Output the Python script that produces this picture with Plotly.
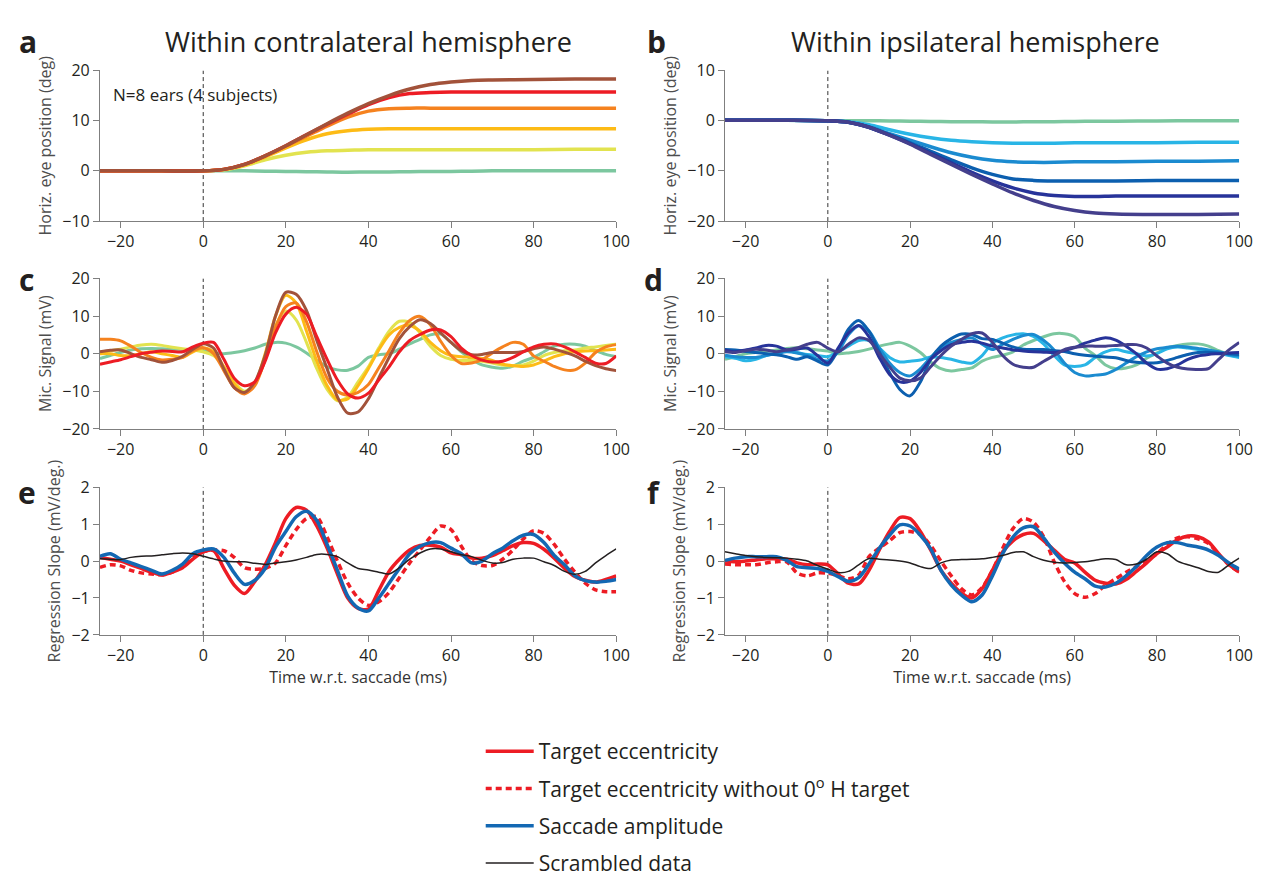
import plotly.graph_objects as go

# ---------------- data ----------------
T_EYE = [-25, -20, -10, 0, 5, 10, 15, 20, 25, 30, 35, 40, 45, 50, 55, 60, 65, 70, 80, 90, 100]

# panel a: contralateral eye position (deg)
a_green  = [0, 0, 0, 0, 0.0, 0, -0.05, -0.1, -0.15, -0.2, -0.25, -0.2, -0.2, -0.15, -0.1, -0.1, -0.05, 0, 0, 0, 0]
a_yellow = [0, 0, 0, 0, 0.2, 1.0, 2.2, 3.1, 3.7, 4.0, 4.1, 4.2, 4.2, 4.2, 4.2, 4.2, 4.2, 4.2, 4.2, 4.3, 4.3]
a_gold   = [0, 0, 0, 0, 0.3, 1.2, 2.8, 4.6, 6.2, 7.4, 8.0, 8.3, 8.4, 8.4, 8.4, 8.4, 8.4, 8.4, 8.4, 8.4, 8.4]
a_orange = [0, 0, 0, 0, 0.3, 1.3, 3.0, 4.9, 6.9, 8.9, 10.7, 11.9, 12.4, 12.5, 12.5, 12.5, 12.5, 12.5, 12.5, 12.5, 12.5]
a_red    = [0, 0, 0, 0, 0.3, 1.3, 3.0, 5.0, 7.2, 9.3, 11.3, 13.2, 14.6, 15.4, 15.6, 15.7, 15.7, 15.7, 15.7, 15.7, 15.7]
a_brown  = [0, 0, 0, 0, 0.3, 1.3, 3.0, 5.0, 7.2, 9.4, 11.5, 13.4, 15.0, 16.3, 17.2, 17.7, 18.0, 18.1, 18.2, 18.3, 18.3]

# panel b: ipsilateral eye position (deg)
b_green  = [0.1, 0.1, 0.1, 0, 0, 0, -0.05, -0.1, -0.15, -0.2, -0.2, -0.25, -0.25, -0.2, -0.2, -0.15, -0.1, -0.1, -0.05, 0, 0]
b_cyan   = [0.1, 0.1, 0.1, 0, -0.2, -0.8, -1.8, -2.7, -3.4, -3.9, -4.2, -4.4, -4.5, -4.5, -4.5, -4.4, -4.4, -4.4, -4.4, -4.3, -4.3]
b_lblue  = [0.1, 0.1, 0.1, 0, -0.3, -1.2, -2.6, -3.9, -5.2, -6.4, -7.3, -7.9, -8.2, -8.3, -8.3, -8.2, -8.2, -8.2, -8.1, -8.1, -8.0]
b_blue   = [0.1, 0.1, 0.1, 0, -0.3, -1.3, -2.8, -4.4, -6.1, -7.8, -9.4, -10.7, -11.6, -11.9, -12.0, -12.0, -12.0, -12.0, -11.9, -11.9, -11.9]
b_dblue  = [0.1, 0.1, 0.1, 0, -0.3, -1.3, -2.9, -4.6, -6.5, -8.4, -10.3, -12.0, -13.4, -14.4, -14.9, -15.1, -15.1, -15.0, -15.0, -15.0, -15.0]
b_navy   = [0.1, 0.1, 0.1, 0, -0.3, -1.3, -2.9, -4.7, -6.7, -8.7, -10.7, -12.6, -14.4, -15.9, -17.1, -17.9, -18.4, -18.6, -18.7, -18.7, -18.6]

T_MS = [-25.0, -22.5, -20.0, -17.5, -15.0, -12.5, -10.0, -7.5, -5.0, -2.5,
        0.0, 2.5, 5.0, 7.5, 10.0, 12.5, 15.0, 17.5, 20.0, 22.5,
        25.0, 27.5, 30.0, 32.5, 35.0, 37.5, 40.0, 42.5, 45.0, 47.5,
        50.0, 52.5, 55.0, 57.5, 60.0, 62.5, 65.0, 67.5, 70.0, 72.5,
        75.0, 77.5, 80.0, 82.5, 85.0, 87.5, 90.0, 92.5, 95.0, 97.5, 100.0]

# panel c: contralateral mic signal (mV)
c_green  = [-1.3, -0.5, 0.3, 1.0, 1.3, 1.4, 1.3, 1.2, 1.1, 1.0,
            0.8, 0.1, 0.0, 0.3, 0.8, 1.5, 2.5, 3.0, 2.8, 1.8,
            0.2, -1.8, -3.5, -4.3, -4.4, -3.3, -1.0, -0.3, 0.0, 1.2,
            2.6, 3.8, 5.0, 5.2, 3.0, 0.5, -1.5, -3.0, -3.6, -3.9,
            -3.3, -2.0, -1.0, 0.5, 2.0, 2.5, 2.5, 2.0, 0.8, -0.2, -0.8]
c_yellow = [0.3, 0.8, 1.2, 1.8, 2.3, 2.5, 2.2, 1.7, 1.3, 1.0,
            0.5, -0.5, -3.5, -7.5, -10.0, -8.0, -1.5, 7.5, 11.3, 9.0,
            3.0, -4.0, -9.5, -12.5, -11.5, -7.5, -3.5, 1.5, 6.0, 8.6,
            8.3, 5.5, 2.0, -0.5, -1.5, -1.8, -1.8, -2.0, -2.5, -3.0,
            -3.2, -3.0, -2.0, -0.5, 0.3, 0.8, 1.0, 1.5, 1.8, 2.2, 2.5]
c_gold   = [0.0, 0.0, -0.5, -0.5, 0.0, 0.5, 0.0, -0.5, -1.0, 0.5,
            1.5, 0.5, -3.5, -8.0, -10.5, -8.0, 0.0, 10.0, 15.5, 13.5,
            6.0, -2.0, -8.5, -12.3, -12.0, -8.5, -4.0, 1.0, 5.0, 7.0,
            7.5, 6.0, 3.0, 0.8, -0.5, -0.8, -1.0, -1.3, -1.8, -2.8,
            -3.2, -3.4, -3.0, -2.0, -0.8, 0.0, 0.5, 0.7, 0.8, 1.0, 1.2]
c_orange = [3.8, 3.8, 3.4, 2.0, 0.3, -1.0, -1.7, -1.5, -1.0, 0.8,
            1.6, 0.0, -4.5, -9.0, -10.7, -8.5, -1.5, 7.0, 12.5, 13.5,
            8.5, 0.5, -6.5, -10.0, -11.0, -10.3, -8.2, -3.8, 0.8, 5.5,
            8.8, 9.9, 7.7, 3.3, -0.5, -2.6, -2.5, -1.6, 0.2, 1.8,
            3.0, 2.5, -0.6, -2.0, -3.4, -4.3, -4.3, -2.5, 0.3, 1.8, 2.4]
c_red    = [-2.8, -2.2, -1.6, -0.8, 0.0, 0.4, 0.7, 0.6, 0.5, 1.8,
            2.8, 3.0, -1.5, -6.5, -8.5, -7.5, -2.0, 5.5, 10.5, 12.3,
            10.5, 4.5, -1.5, -7.0, -10.7, -11.8, -10.5, -7.0, -3.5, 0.5,
            3.5, 5.1, 6.3, 6.3, 4.5, 1.5, -0.5, -1.7, -2.2, -2.0,
            -1.0, 0.5, 1.8, 2.5, 2.6, 1.8, 0.5, -1.0, -2.5, -2.6, -0.6]
c_brown  = [0.5, 0.9, 1.0, 0.0, -1.0, -1.6, -2.3, -1.8, -0.7, 1.2,
            2.6, 1.5, -4.0, -9.0, -10.3, -7.5, -0.5, 10.0, 16.3, 15.8,
            11.5, 3.5, -4.0, -11.5, -15.8, -15.5, -12.0, -6.5, -1.0, 4.0,
            7.2, 9.0, 8.0, 5.5, 3.0, 0.8, -0.3, -0.2, 0.3, 0.3,
            0.3, 0.6, 1.3, 1.8, 1.2, 0.4, -0.6, -2.0, -3.2, -4.0, -4.5]

# panel d: ipsilateral mic signal (mV)
d_green  = [-1.5, -0.8, 0.0, 0.3, 0.6, 1.0, 1.4, 1.6, 1.3, 1.0,
            0.7, 0.0, 0.2, 0.6, 1.2, 2.0, 2.6, 3.0, 2.0, 0.3,
            -2.2, -4.0, -4.6, -4.2, -3.8, -2.0, -1.0, -0.4, 0.5, 2.3,
            3.5, 4.5, 5.3, 5.3, 4.5, 1.5, -0.5, -3.0, -4.0, -3.8,
            -3.0, -1.2, 0.2, 1.5, 2.2, 2.6, 2.6, 2.0, 0.8, -0.2, -0.8]
d_cyan   = [-0.8, -1.2, -1.9, -1.5, -0.5, 0.2, 0.7, 0.3, -0.2, -0.5,
            -0.8, 0.5, 2.0, 3.5, 3.5, 1.5, -1.0, -2.2, -2.0, -1.7,
            -0.9, -1.0, -1.5, -2.2, -2.5, -0.5, 2.8, 4.2, 5.0, 5.3,
            4.6, 2.5, -0.5, -3.0, -3.4, -3.0, -1.0, 0.5, 1.1, 0.5,
            0.0, -0.6, 0.0, 1.3, 1.8, 1.5, 1.1, 0.8, 0.2, -0.5, -1.0]
d_lblue  = [-0.4, -0.8, -1.0, -1.0, -0.5, 0.0, 0.5, 0.2, -0.5, -1.5,
            -1.9, 0.5, 5.0, 7.4, 6.0, 1.5, -2.5, -5.0, -5.9, -4.0,
            -1.0, 1.5, 3.0, 3.8, 4.2, 2.5, 1.1, 2.5, 3.8, 4.8,
            5.1, 3.5, 1.0, -2.5, -5.0, -5.9, -5.7, -5.4, -4.2, -2.5,
            -0.8, 0.5, 1.3, 1.7, 2.0, 1.8, 1.4, 1.0, 0.5, -0.2, -0.6]
d_blue   = [1.1, 1.0, 0.6, 0.3, 0.0, -0.3, -0.8, -1.5, -0.8, -2.0,
            -3.0, 1.0, 6.5, 8.8, 6.0, 0.5, -5.0, -9.5, -11.2, -7.5,
            -1.5, 2.0, 4.0, 5.2, 5.1, 4.0, 3.8, 2.8, 1.8, 1.2,
            1.1, 1.1, 0.8, 0.6, 0.0, -0.4, -0.7, -0.9, -1.1, -1.8,
            -2.3, -2.5, -2.4, -1.8, -1.0, -0.2, 0.3, 0.4, 0.2, 0.0, -0.2]
d_dblue  = [1.0, 0.5, 1.0, 1.5, 2.2, 2.0, 1.0, 1.2, 1.5, -0.5,
            -2.5, 1.5, 5.5, 7.5, 4.5, -1.0, -5.5, -7.5, -7.3, -5.0,
            -1.5, 0.8, 2.4, 3.0, 3.3, 2.8, 2.0, 1.5, 1.0, 0.7,
            0.5, 0.4, 0.3, 0.8, 1.6, 2.8, 3.6, 4.2, 3.6, 2.0,
            0.0, -2.5, -4.1, -4.0, -3.0, -1.5, -0.6, -0.2, 0.0, 0.2, 0.3]
d_navy   = [0.5, 0.3, 0.8, 1.2, 1.0, 0.5, 1.0, 1.5, 2.5, 3.0,
            1.5, 0.5, 2.5, 4.2, 3.5, 0.0, -3.5, -6.5, -7.2, -6.5,
            -3.5, -0.5, 2.0, 3.8, 5.3, 5.5, 3.0, -0.5, -2.8, -3.6,
            -3.6, -2.0, -0.5, 1.1, 1.7, 2.0, 2.0, 2.0, 2.2, 2.4,
            2.4, 1.5, -0.6, -2.5, -3.6, -4.1, -4.2, -4.0, -1.5, 1.0, 3.0]

# panel e: contralateral regression slope (mV/deg.)
e_target  = [0.1, 0.05, 0.0, -0.1, -0.2, -0.3, -0.38, -0.3, -0.18, 0.05,
             0.25, 0.28, -0.2, -0.65, -0.88, -0.55, -0.1, 0.5, 1.15, 1.45,
             1.38, 0.95, 0.35, -0.35, -1.0, -1.28, -1.3, -0.8, -0.28, 0.05,
             0.3, 0.42, 0.43, 0.38, 0.22, 0.17, 0.08, 0.08, 0.15, 0.28,
             0.42, 0.5, 0.48, 0.32, 0.08, -0.2, -0.42, -0.52, -0.57, -0.5, -0.4]
e_target0 = [-0.17, -0.1, -0.13, -0.25, -0.32, -0.35, -0.37, -0.3, -0.15, 0.1,
             0.25, 0.3, 0.28, 0.1, -0.18, -0.22, -0.2, -0.05, 0.42, 0.85,
             1.15, 1.2, 0.65, 0.0, -0.6, -1.0, -1.2, -1.1, -0.85, -0.45,
             -0.05, 0.3, 0.65, 0.95, 0.85, 0.4, 0.0, -0.12, -0.12, 0.05,
             0.3, 0.6, 0.82, 0.75, 0.45, 0.05, -0.3, -0.6, -0.78, -0.83, -0.83]
e_sacc    = [0.13, 0.2, 0.05, -0.05, -0.15, -0.25, -0.35, -0.25, -0.08, 0.2,
             0.3, 0.33, 0.1, -0.32, -0.63, -0.52, -0.2, 0.38, 0.8, 1.2,
             1.35, 1.1, 0.45, -0.25, -0.95, -1.27, -1.35, -1.0, -0.6, -0.2,
             0.2, 0.4, 0.5, 0.5, 0.35, 0.2, -0.05, 0.0, 0.2, 0.35,
             0.55, 0.7, 0.72, 0.5, 0.15, -0.1, -0.4, -0.53, -0.57, -0.55, -0.5]
e_scram   = [0.06, 0.05, 0.04, 0.1, 0.13, 0.14, 0.17, 0.2, 0.22, 0.2,
             0.13, 0.06, 0.0, -0.02, -0.02, -0.06, -0.09, -0.05, -0.02, 0.03,
             0.1, 0.18, 0.18, 0.12, -0.05, -0.2, -0.24, -0.3, -0.35, -0.18,
             0.05, 0.22, 0.33, 0.33, 0.25, 0.17, 0.12, 0.02, -0.05, -0.04,
             0.05, 0.08, 0.08, -0.02, -0.12, -0.28, -0.36, -0.28, -0.05, 0.15, 0.33]

# panel f: ipsilateral regression slope (mV/deg.)
f_target  = [0.0, -0.02, 0.0, 0.03, 0.06, 0.06, 0.05, -0.05, -0.1, -0.08,
             -0.1, -0.35, -0.6, -0.62, -0.25, 0.3, 0.8, 1.18, 1.15, 0.8,
             0.3, -0.25, -0.6, -0.87, -1.0, -0.75, -0.25, 0.25, 0.55, 0.72,
             0.75, 0.55, 0.3, 0.05, -0.05, -0.3, -0.52, -0.6, -0.62, -0.5,
             -0.28, -0.05, 0.2, 0.38, 0.58, 0.68, 0.66, 0.52, 0.2, -0.1, -0.3]
f_target0 = [-0.08, -0.1, -0.1, -0.1, -0.05, -0.02, -0.02, -0.32, -0.4, -0.32,
             -0.33, -0.4, -0.48, -0.38, 0.12, 0.35, 0.55, 0.77, 0.8, 0.72,
             0.42, 0.0, -0.4, -0.75, -0.92, -0.72, -0.25, 0.35, 0.88, 1.15,
             1.05, 0.65, -0.02, -0.55, -0.88, -0.98, -0.88, -0.65, -0.48, -0.3,
             -0.15, 0.02, 0.2, 0.45, 0.63, 0.66, 0.6, 0.48, 0.18, -0.1, -0.3]
f_sacc    = [0.02, 0.08, 0.12, 0.12, 0.12, 0.12, 0.02, -0.15, -0.18, -0.2,
             -0.28, -0.42, -0.55, -0.45, -0.08, 0.35, 0.7, 0.98, 0.95, 0.7,
             0.33, -0.25, -0.65, -0.92, -1.1, -0.92, -0.4, 0.2, 0.65, 0.9,
             0.93, 0.62, 0.25, -0.05, -0.3, -0.48, -0.68, -0.7, -0.6, -0.4,
             -0.15, 0.15, 0.38, 0.5, 0.5, 0.43, 0.38, 0.3, 0.15, -0.05, -0.22]
f_scram   = [0.25, 0.2, 0.15, 0.12, 0.1, 0.09, 0.08, 0.05, 0.0, -0.12,
             -0.22, -0.31, -0.28, -0.1, 0.07, 0.05, 0.03, 0.0, -0.05, -0.15,
             -0.2, -0.05, 0.03, 0.04, 0.05, 0.06, 0.1, 0.15, 0.23, 0.25,
             0.12, 0.02, -0.03, -0.05, -0.04, -0.02, 0.02, 0.06, 0.04, -0.1,
             -0.08, 0.05, 0.25, 0.2, 0.0, -0.1, -0.18, -0.28, -0.3, -0.1, 0.08]

X_TICKS = [-20, 0, 20, 40, 60, 80, 100]

# ---------------- styles ----------------
WARM = {"green": "#7cc79f", "yellow": "#e2e34f", "gold": "#fdbb16",
        "orange": "#f5821f", "red": "#ed1c24", "brown": "#a2523a"}
COOL = {"green": "#7cc79f", "cyan": "#29b5e6", "lblue": "#1b8bd0",
        "blue": "#0c5faf", "dblue": "#27339a", "navy": "#443f8c"}
RED = "#ed1c24"
BLUE = "#1368b3"
FONT = "Open Sans"
TXT = "#231f20"

W, H = 1266, 876
def px_x(p):
    return p / W
def px_y(p):
    return 1 - p / H

LEFT_DOM = [px_x(93), px_x(615)]
RIGHT_DOM = [px_x(725), px_x(1245)]
ROW_DOM = [[px_y(208), px_y(53)], [px_y(422), px_y(267)], [px_y(634), px_y(482)]]

fig = go.Figure()

def add_lines(xs, series, colors, xa, ya, width, smoothing=0.8):
    for ys, col in zip(series, colors):
        fig.add_trace(go.Scatter(x=xs, y=ys, mode="lines", xaxis=xa, yaxis=ya,
                                 line=dict(color=col, width=width, shape="spline", smoothing=smoothing),
                                 showlegend=False, hoverinfo="skip"))

add_lines(T_EYE, [a_green, a_yellow, a_gold, a_orange, a_red, a_brown],
          [WARM[k] for k in ["green", "yellow", "gold", "orange", "red", "brown"]], "x", "y", 3.5)
add_lines(T_EYE, [b_green, b_cyan, b_lblue, b_blue, b_dblue, b_navy],
          [COOL[k] for k in ["green", "cyan", "lblue", "blue", "dblue", "navy"]], "x2", "y2", 3.5)
add_lines(T_MS, [c_green, c_yellow, c_gold, c_orange, c_brown, c_red],
          [WARM[k] for k in ["green", "yellow", "gold", "orange", "brown", "red"]], "x3", "y3", 3)
add_lines(T_MS, [d_green, d_cyan, d_lblue, d_blue, d_dblue, d_navy],
          [COOL[k] for k in ["green", "cyan", "lblue", "blue", "dblue", "navy"]], "x4", "y4", 3)

def add_reg(tgt, tgt0, sacc, scram, xa, ya, legend):
    specs = [("Target eccentricity", tgt, RED, 3.5, "solid"),
             ("Target eccentricity without 0<sup>o</sup> H target", tgt0, RED, 3.5, "6px,4px"),
             ("Saccade amplitude", sacc, BLUE, 3.5, "solid"),
             ("Scrambled data", scram, "#231f20", 1.5, "solid")]
    for i, (name, ys, col, w, dash) in enumerate(specs):
        fig.add_trace(go.Scatter(x=T_MS, y=ys, mode="lines", xaxis=xa, yaxis=ya, name=name,
                                 line=dict(color=col, width=w, dash=dash, shape="spline", smoothing=0.8),
                                 showlegend=legend, legendgroup="g%d" % i, hoverinfo="skip"))

add_reg(e_target, e_target0, e_sacc, e_scram, "x5", "y5", True)
add_reg(f_target, f_target0, f_sacc, f_scram, "x6", "y6", False)

axis_common = dict(showline=True, linecolor="#7f7f7f", linewidth=1, ticks="outside", ticklen=6,
                   tickcolor="#7f7f7f", showgrid=False, zeroline=False,
                   tickfont=dict(family=FONT, size=16, color=TXT), mirror=False)

yinfo = [([-10, 20], [-10, 0, 10, 20], "Horiz. eye position (deg)"),
         ([-20, 10], [-20, -10, 0, 10], "Horiz. eye position (deg)"),
         ([-20, 20], [-20, -10, 0, 10, 20], "Mic. Signal (mV)"),
         ([-20, 20], [-20, -10, 0, 10, 20], "Mic. Signal (mV)"),
         ([-2, 2], [-2, -1, 0, 1, 2], "Regression Slope (mV/deg.)"),
         ([-2, 2], [-2, -1, 0, 1, 2], "Regression Slope (mV/deg.)")]

layout = {}
for i in range(6):
    n = "" if i == 0 else str(i + 1)
    col = i % 2
    row = i // 2
    xd = LEFT_DOM if col == 0 else RIGHT_DOM
    xa = dict(axis_common, domain=xd, range=[-25, 100], tickvals=X_TICKS, anchor="y" + n)
    if row == 2:
        xa["title"] = dict(text="Time w.r.t. saccade (ms)", font=dict(family=FONT, size=16, color="#333"), standoff=6)
    rng, tv, ttl = yinfo[i]
    ya = dict(axis_common, domain=ROW_DOM[row], range=rng, tickvals=tv, anchor="x" + n,
              title=dict(text=ttl, font=dict(family=FONT, size=16, color="#4d4d4d"), standoff=6))
    layout["xaxis" + n] = xa
    layout["yaxis" + n] = ya
    # dashed line at saccade onset
    fig.add_shape(type="line", xref="x" + n, yref="y" + n, x0=0, x1=0, y0=rng[0], y1=rng[1],
                  line=dict(color="#333", width=1, dash="4px,3px"), layer="below")

fig.update_layout(**layout)

annots = [
    dict(text="<b>a</b>", x=px_x(20), y=px_y(23), size=30),
    dict(text="<b>b</b>", x=px_x(656), y=px_y(23), size=30),
    dict(text="<b>c</b>", x=px_x(19), y=px_y(268), size=30),
    dict(text="<b>d</b>", x=px_x(653), y=px_y(268), size=30),
    dict(text="<b>e</b>", x=px_x(19), y=px_y(487), size=30),
    dict(text="<b>f</b>", x=px_x(653), y=px_y(487), size=30),
    dict(text="Within contralateral hemisphere", x=px_x(365), y=px_y(23), size=27),
    dict(text="Within ipsilateral hemisphere", x=px_x(978), y=px_y(23), size=27),
]
for a in annots:
    fig.add_annotation(text=a["text"], x=a["x"], y=a["y"], xref="paper", yref="paper",
                       showarrow=False, xanchor="center", yanchor="middle",
                       font=dict(family=FONT, size=a["size"], color=TXT))
fig.add_annotation(text="N=8 ears (4 subjects)", x=px_x(104), y=px_y(78), xref="paper", yref="paper",
                   showarrow=False, xanchor="left", yanchor="middle",
                   font=dict(family=FONT, size=17, color=TXT))

fig.update_layout(
    width=W, height=H, margin=dict(l=0, r=0, t=0, b=0),
    paper_bgcolor="white", plot_bgcolor="white",
    showlegend=True,
    legend=dict(x=px_x(478), y=px_y(733), xanchor="left", yanchor="top",
                font=dict(family=FONT, size=21, color=TXT), tracegroupgap=7,
                bgcolor="rgba(0,0,0,0)", itemwidth=48),
)

fig.write_html("out.html")
